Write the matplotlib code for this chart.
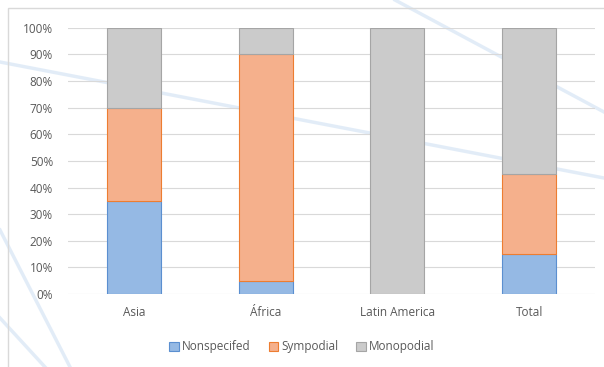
import numpy as np
import matplotlib
matplotlib.use('Agg')
import matplotlib.pyplot as plt
from matplotlib.lines import Line2D
from matplotlib.patches import Rectangle

regions = ['Asia', 'África', 'Latin America', 'Total']
nonspecified = [35, 5, 0, 15]
sympodial = [35, 85, 0, 30]
monopodial = [30, 10, 100, 55]

plt.rcParams['font.family'] = 'Open Sans'
plt.rcParams['font.size'] = 8.5

fig = plt.figure(figsize=(6.04, 3.67), dpi=100)
fig.patch.set_facecolor('white')

# faint decorative background lines (pixel coords, y from top)
W, H = 604.0, 367.0
for (x0, y0, x1, y1) in [(0, 62, 604, 178), (395, 0, 604, 112),
                         (0, 318, 45, 367), (0, 230, 70, 367)]:
    fig.add_artist(Line2D([x0 / W, x1 / W], [1 - y0 / H, 1 - y1 / H],
                          transform=fig.transFigure, color='#d6e5f5',
                          lw=2.5, alpha=0.7, zorder=0))
fig.add_artist(Rectangle((0.013, -0.1), 1.1, 1.078, transform=fig.transFigure,
                         fill=False, edgecolor='#d9d9d9', lw=1.0, zorder=0))

ax = fig.add_axes([0.113, 0.199, 0.872, 0.725])
ax.patch.set_alpha(0)
x = np.arange(len(regions))
w = 0.41
b1 = np.array(nonspecified)
b2 = b1 + np.array(sympodial)
ax.bar(x, nonspecified, w, color='#95b9e4', edgecolor='#5b8fd0', lw=0.8,
       label='Nonspecifed', zorder=3)
ax.bar(x, sympodial, w, bottom=b1, color='#f5b08c', edgecolor='#ed7d31', lw=0.8,
       label='Sympodial', zorder=3)
ax.bar(x, monopodial, w, bottom=b2, color='#cbcbcb', edgecolor='#a5a5a5', lw=0.8,
       label='Monopodial', zorder=3)

ax.set_xlim(-0.5, 3.5)
ax.set_ylim(0, 100)
ax.set_yticks(range(0, 101, 10))
ax.set_yticklabels([f'{v}%' for v in range(0, 101, 10)], color='#595959')
ax.set_xticks(x)
ax.set_xticklabels(regions, color='#595959')
ax.grid(axis='y', color='#d9d9d9', lw=0.8, zorder=0)
for s in ax.spines.values():
    s.set_visible(False)
ax.tick_params(length=0)
ax.tick_params(axis='y', pad=11)
ax.tick_params(axis='x', pad=9)

fig.legend(loc='center', bbox_to_anchor=(0.5, 0.055), ncol=3, frameon=False,
           handlelength=0.8, handleheight=0.8, handletextpad=0.3, columnspacing=1.5,
           labelcolor='#595959')

plt.savefig('out.png', dpi=100)
